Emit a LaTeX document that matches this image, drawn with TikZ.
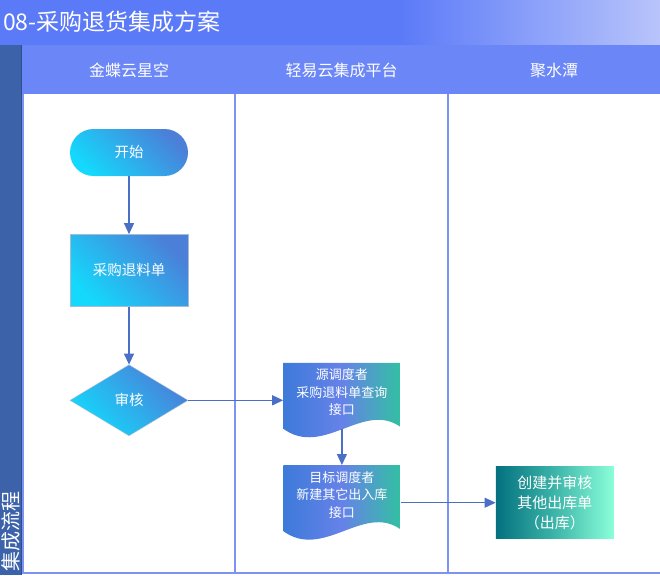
\documentclass[tikz,border=0pt]{standalone}
\usepackage{fontspec}
\setmainfont{Noto Sans CJK SC}
\usetikzlibrary{arrows.meta,shapes.geometric,positioning,calc}

\definecolor{titleblue}{HTML}{5B7AF8}
\definecolor{titlelight}{HTML}{B8C4FB}
\definecolor{headblue}{HTML}{6B86F6}
\definecolor{stripblue}{HTML}{3C62A9}
\definecolor{stripedge}{HTML}{2E4F8E}
\definecolor{laneblue}{HTML}{7D92F2}
\definecolor{flowblue}{HTML}{4A6FC6}
\definecolor{cyanstart}{HTML}{14D8FC}
\definecolor{blueend}{HTML}{4B7FD8}
\definecolor{shapeedge}{HTML}{A9BAD3}
\definecolor{docleft}{HTML}{3D7ADA}
\definecolor{docmid}{HTML}{6682E8}
\definecolor{docright}{HTML}{33C0A2}
\definecolor{tealdark}{HTML}{03717F}
\definecolor{tealmid}{HTML}{3DB5A9}
\definecolor{teallight}{HTML}{8BFFDA}

\begin{document}
\begin{tikzpicture}[x=1pt, y=-1pt, >={Triangle[length=11pt,width=10pt]},
    flow/.style={->, flowblue, line width=1.3pt},
    lane/.style={laneblue, line width=1.5pt},
    lanehead/.style={text=white, font=\fontsize{16}{19}\selectfont},
    jdnode/.style={bottom color=cyanstart, top color=blueend, shading angle=-45,
        text=white, font=\fontsize{14.5}{17}\selectfont, minimum width=118pt, inner sep=0pt},
    doctext/.style={text=white, align=center, font=\fontsize{13}{17.5}\selectfont, inner sep=0pt},
    docbox/.style={minimum width=117pt, minimum height=75pt, inner sep=0pt,
        path picture={
            \path (path picture bounding box.north west) coordinate (nw);
            \shade[left color=docleft, right color=docright, middle color=docmid]
                (nw) -- ($(nw)+(117,0)$) -- ($(nw)+(117,64)$)
                .. controls ($(nw)+(80,38)$) and ($(nw)+(40,95)$) .. ($(nw)+(0,66)$) -- cycle;}},
    jsbox/.style={left color=tealdark, right color=teallight, middle color=tealmid,
        minimum width=118pt, minimum height=72pt, inner sep=0pt, align=center,
        text=white, font=\fontsize{15}{20}\selectfont}]

    \useasboundingbox (0,0) rectangle (660,575);

    \fill[titleblue] (0,0) rectangle (400,45);
    \shade[left color=titleblue, right color=titlelight] (399,0) rectangle (660,45);
    \fill[headblue] (22,45) rectangle (660,94);
    \fill[stripblue] (0,45) rectangle (22,575);
    \draw[stripedge, line width=1pt] (21.5,45) -- (21.5,575);

    \draw[lane] (23,94) -- (23,573) -- (660,573);
    \draw[lane] (235,94) -- (235,573);
    \draw[lane] (448,94) -- (448,573);

    \node[anchor=west, inner sep=0pt, text=white, font=\fontsize{23}{27}\selectfont]
        (title) at (3,22) {08-采购退货集成方案};
    \node[rotate=90, anchor=west, inner sep=0pt, text=white, font=\fontsize{20}{22}\selectfont]
        (flowtag) at (11,572) {集成流程};

    \foreach \i/\x/\name in {1/129/金蝶云星空, 2/341.5/轻易云集成平台, 3/554/聚水潭} {
        \node[lanehead] (lane\i) at (\x,70.5) {\name};
    }

    \node[jdnode, rounded corners=23.5pt, minimum height=47pt] (start) at (129,152.5) {开始};
    \node[jdnode, draw=shapeedge, minimum height=72pt, below=58pt of start] (bill) {采购退料单};
    \node[jdnode, diamond, draw=shapeedge, minimum height=71pt, below=58pt of bill] (audit) {审核};

    \node[docbox, right=95pt of audit,
        label={[doctext, name=srctext, yshift=8pt]center:源调度者\\采购退料单查询\\接口}] (srcdoc) {};
    \node[docbox, below=27pt of srcdoc,
        label={[doctext, name=tgttext, yshift=8pt]center:目标调度者\\新建其它出入库\\接口}] (tgtdoc) {};
    \node[jsbox, right=95pt of tgtdoc] (outbill) {创建并审核\\其他出库单\\（出库）};

    \draw[flow] (start.south) -- (bill.north);
    \draw[flow] (bill.south) -- (audit.north);
    \draw[flow] (audit.east) -- (srcdoc.west);
    \draw[flow, shorten <=-9pt] (srcdoc.south) -- (tgtdoc.north);
    \draw[flow] (tgtdoc.east) -- (outbill.west);
\end{tikzpicture}
\end{document}
